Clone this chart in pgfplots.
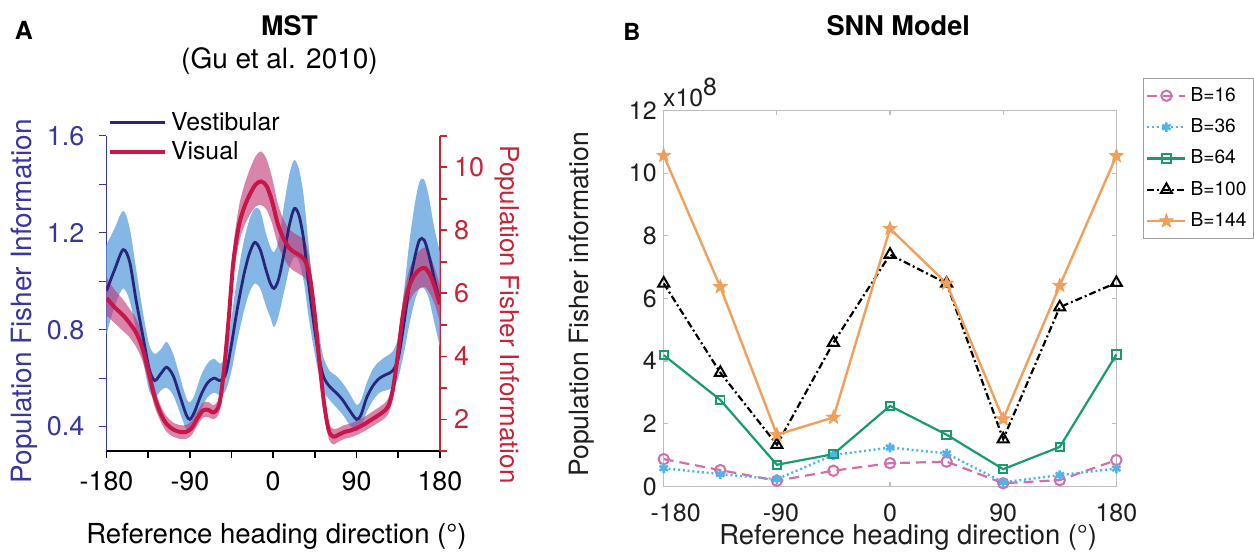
\documentclass[border=0pt]{standalone}
\usepackage{fontspec}
\setmainfont{TeX Gyre Heros}
\usepackage{pgfplots}
\pgfplotsset{compat=1.18}
\usepackage{pgfplotstable}
\usepgfplotslibrary{fillbetween}

\definecolor{vestline}{RGB}{40,38,120}
\definecolor{vestband}{RGB}{110,170,225}
\definecolor{visline}{RGB}{200,22,72}
\definecolor{visband}{RGB}{190,50,115}
\definecolor{leftax}{RGB}{55,55,160}
\definecolor{rightax}{RGB}{200,35,55}
\definecolor{cBa}{RGB}{210,110,170}
\definecolor{cBb}{RGB}{80,180,235}
\definecolor{cBc}{RGB}{25,155,110}
\definecolor{cBe}{RGB}{240,160,90}
\definecolor{frame}{RGB}{190,190,190}
\definecolor{txt}{RGB}{30,30,30}

% filled five-pointed star marker
\pgfdeclareplotmark{pentastar}{%
  \pgfpathmoveto{\pgfpointpolar{90}{\pgfplotmarksize}}%
  \pgfpathlineto{\pgfpointpolar{126}{0.42\pgfplotmarksize}}%
  \pgfpathlineto{\pgfpointpolar{162}{\pgfplotmarksize}}%
  \pgfpathlineto{\pgfpointpolar{198}{0.42\pgfplotmarksize}}%
  \pgfpathlineto{\pgfpointpolar{234}{\pgfplotmarksize}}%
  \pgfpathlineto{\pgfpointpolar{270}{0.42\pgfplotmarksize}}%
  \pgfpathlineto{\pgfpointpolar{306}{\pgfplotmarksize}}%
  \pgfpathlineto{\pgfpointpolar{342}{0.42\pgfplotmarksize}}%
  \pgfpathlineto{\pgfpointpolar{18}{\pgfplotmarksize}}%
  \pgfpathlineto{\pgfpointpolar{54}{0.42\pgfplotmarksize}}%
  \pgfpathclose\pgfusepathqfillstroke}

% MST population Fisher information, vestibular condition (mean and band)
\pgfplotstableread{
x m lo hi
-180 0.96 0.78 1.15
-171 1.05 0.90 1.22
-162 1.13 0.97 1.29
-155 1.08 0.92 1.22
-148 0.92 0.80 1.05
-141 0.78 0.68 0.88
-134 0.64 0.55 0.74
-128 0.59 0.52 0.70
-121 0.62 0.55 0.72
-115 0.645 0.56 0.75
-108 0.61 0.53 0.70
-101 0.53 0.46 0.61
-94 0.45 0.39 0.52
-90 0.43 0.38 0.50
-85 0.46 0.41 0.53
-78 0.53 0.47 0.61
-71 0.58 0.52 0.66
-64 0.60 0.54 0.68
-57 0.59 0.53 0.66
-51 0.62 0.55 0.70
-45 0.74 0.63 0.85
-39 0.88 0.75 1.01
-32 1.02 0.87 1.16
-26 1.11 0.95 1.25
-20 1.16 0.99 1.30
-14 1.13 0.97 1.29
-8 1.05 0.90 1.20
-3 0.99 0.85 1.14
1 0.97 0.81 1.12
6 1.01 0.86 1.17
12 1.12 0.96 1.32
18 1.24 1.06 1.45
23 1.30 1.10 1.50
28 1.27 1.08 1.46
33 1.17 1.00 1.35
38 1.00 0.86 1.16
43 0.85 0.74 0.97
48 0.72 0.64 0.82
54 0.61 0.55 0.69
61 0.565 0.51 0.63
68 0.54 0.48 0.61
75 0.51 0.45 0.58
82 0.47 0.41 0.54
90 0.43 0.38 0.49
95 0.45 0.40 0.51
101 0.52 0.46 0.58
108 0.57 0.51 0.64
115 0.60 0.54 0.67
122 0.615 0.55 0.69
129 0.63 0.56 0.71
135 0.68 0.60 0.77
141 0.82 0.70 0.95
147 0.98 0.82 1.16
153 1.10 0.92 1.32
158 1.17 0.97 1.41
163 1.17 0.97 1.42
168 1.11 0.93 1.35
174 1.01 0.83 1.22
180 0.92 0.73 1.12
}\vestibular

% MST population Fisher information, visual condition (mean and band)
\pgfplotstableread{
x m lo hi
-180 5.85 5.30 6.50
-171 5.55 5.05 6.10
-162 5.30 4.80 5.80
-155 5.05 4.60 5.50
-148 4.75 4.30 5.20
-141 4.25 3.85 4.65
-134 3.45 3.10 3.80
-128 2.70 2.40 3.00
-121 2.15 1.90 2.40
-115 1.85 1.60 2.10
-108 1.68 1.45 1.90
-101 1.60 1.38 1.82
-94 1.60 1.38 1.82
-88 1.72 1.50 1.95
-82 2.02 1.80 2.25
-76 2.28 2.05 2.52
-70 2.30 2.07 2.55
-64 2.22 2.00 2.45
-58 2.50 2.25 2.75
-53 3.60 3.30 3.90
-48 5.20 4.80 5.60
-43 7.00 6.50 7.50
-37 8.15 7.60 8.75
-31 8.75 8.15 9.45
-25 9.15 8.50 9.95
-19 9.45 8.75 10.35
-13 9.55 8.80 10.50
-7 9.40 8.65 10.25
-1 8.90 8.20 9.65
5 8.20 7.55 8.85
11 7.75 7.15 8.35
17 7.45 6.85 8.05
23 7.30 6.70 7.90
29 7.20 6.60 7.80
35 7.00 6.45 7.60
40 6.45 5.95 6.95
45 5.30 4.90 5.70
50 3.80 3.50 4.10
55 2.50 2.25 2.75
60 1.65 1.40 1.90
65 1.45 1.20 1.70
70 1.50 1.28 1.72
77 1.60 1.38 1.82
84 1.65 1.43 1.87
90 1.72 1.50 1.95
97 1.82 1.60 2.05
104 1.95 1.72 2.18
111 2.08 1.85 2.32
118 2.22 1.98 2.46
124 2.40 2.15 2.65
129 2.90 2.60 3.20
134 3.90 3.55 4.25
140 5.30 4.85 5.75
146 6.15 5.65 6.65
152 6.55 6.00 7.10
158 6.75 6.15 7.35
164 6.80 6.20 7.45
170 6.55 5.95 7.15
175 6.15 5.60 6.75
180 5.65 5.10 6.25
}\visual

\newcommand{\fs}[1]{\fontsize{#1}{#1}\selectfont}

\begin{document}
\begin{tikzpicture}
\begin{scope}[x=0.5pt,y=-0.5pt]
\useasboundingbox (0,0) rectangle (1254,550);
\end{scope}

%% ---------------- Panel A: MST ----------------
\begin{axis}[
  at={(53.35pt,-225.85pt)}, anchor=south west,
  scale only axis, width=167pt, height=157.85pt,
  xmin=-180, xmax=180, ymin=0.3, ymax=1.6,
  axis x line*=bottom, axis y line*=left,
  xtick={-180,-90,0,90,180}, minor xtick={-135,-45,45,135},
  ytick={0.4,0.8,1.2,1.6}, minor ytick={0.6,1.0,1.4},
  tick align=outside, major tick length=3.6pt, minor tick length=3.6pt,
  x axis line style={black, line width=1pt},
  y axis line style={leftax, line width=0.6pt},
  xtick style={black, line width=0.8pt},
  ytick style={leftax, line width=0.6pt},
  /pgf/number format/assume math mode=true,
  xticklabel style={font=\fs{13.4}, text=black, yshift=-3pt},
  yticklabel style={font=\fs{13.5}, text=leftax, xshift=-4pt,
    /pgf/number format/fixed, /pgf/number format/precision=1,
    /pgf/number format/fixed zerofill},
  legend style={at={(0.004,1.089)}, anchor=north west, draw=none, fill=none,
    font=\fs{12.4}, row sep=0pt, inner sep=0pt},
  legend cell align=left,
  legend image code/.code={\draw[#1] (0pt,0pt) -- (27.5pt,0pt);},
]
\addplot[name path=vu, draw=none, smooth, tension=0.5, forget plot] table[x=x,y=hi]{\vestibular};
\addplot[name path=vl, draw=none, smooth, tension=0.5, forget plot] table[x=x,y=lo]{\vestibular};
\addplot[fill=vestband, fill opacity=0.85, draw=none, forget plot] fill between[of=vu and vl];
\addplot[vestline, line width=1.4pt, smooth, tension=0.5, forget plot] table[x=x,y=m]{\vestibular};
\addlegendimage{vestline, line width=1.4pt}
\addlegendentry{Vestibular}
\addlegendimage{visline, line width=2pt}
\addlegendentry{Visual}
\end{axis}

\begin{axis}[
  at={(53.35pt,-225.85pt)}, anchor=south west,
  scale only axis, width=167pt, height=157.85pt,
  xmin=-180, xmax=180, ymin=1, ymax=11,
  axis x line=none, axis y line*=right,
  ytick={2,4,6,8,10}, minor ytick={1,3,5,7,9,11},
  tick align=outside, major tick length=3.6pt, minor tick length=3.6pt,
  y axis line style={rightax, line width=0.8pt},
  ytick style={rightax, line width=0.8pt},
  /pgf/number format/assume math mode=true,
  yticklabel style={font=\fs{13.5}, text=rightax},
]
\addplot[name path=su, draw=none, smooth, tension=0.5] table[x=x,y=hi]{\visual};
\addplot[name path=sl, draw=none, smooth, tension=0.5] table[x=x,y=lo]{\visual};
\addplot[fill=visband, fill opacity=0.6, draw=none] fill between[of=su and sl];
\addplot[visline, line width=2pt, smooth, tension=0.5] table[x=x,y=m]{\visual};
\end{axis}

%% ---------------- Panel B: SNN model ----------------
\begin{axis}[
  at={(332.5pt,-243.65pt)}, anchor=south west,
  scale only axis, width=226.75pt, height=188.3pt,
  xmin=-180, xmax=180, ymin=0, ymax=12,
  xtick={-180,-90,0,90,180}, ytick={0,2,4,6,8,10,12},
  xticklabels={\hspace*{12pt}-180, \hspace*{4pt}-90, 0, 90, 180},
  tick align=inside, major tick length=2.2pt,
  axis line style={frame, line width=0.6pt},
  tick style={frame, line width=0.6pt},
  /pgf/number format/assume math mode=true,
  ticklabel style={font=\fs{12.5}, text=txt},
  xticklabel style={yshift=-5pt},
  clip=false,
  legend style={at={(1.0584,1.087)}, anchor=north west, draw=gray!75,
    line width=0.5pt, fill=white, font=\fs{9.6}, row sep=3.2pt,
    inner xsep=1.5pt, inner ysep=2.5pt},
  legend cell align=left,
  legend image code/.code={%
    \draw[#1] (0pt,0pt) -- (19pt,0pt);
    \draw[#1, only marks] plot coordinates {(9.5pt,0pt)};},
]
\addplot[cBa, line width=1.1pt, dash pattern=on 5pt off 3pt,
  mark=o, mark size=2.6pt, mark options={solid, line width=1pt}]
  coordinates {(-180,0.87) (-135,0.52) (-90,0.18) (-45,0.50) (0,0.74) (45,0.79) (90,0.10) (135,0.20) (180,0.84)};
\addlegendentry{B=16}
\addplot[cBb, line width=1.2pt, dash pattern=on 1pt off 1.4pt,
  mark=asterisk, mark size=2.4pt, mark options={solid, line width=1.3pt}]
  coordinates {(-180,0.58) (-135,0.39) (-90,0.23) (-45,1.00) (0,1.24) (45,1.05) (90,0.13) (135,0.36) (180,0.57)};
\addlegendentry{B=36}
\addplot[cBc, line width=1.1pt,
  mark=square, mark size=2.1pt, mark options={solid, line width=1pt}]
  coordinates {(-180,4.19) (-135,2.76) (-90,0.69) (-45,1.03) (0,2.57) (45,1.65) (90,0.55) (135,1.26) (180,4.21)};
\addlegendentry{B=64}
\addplot[black, line width=1.1pt, dash pattern=on 3.5pt off 1.5pt on 1pt off 1.5pt,
  mark=triangle, mark size=3.2pt, mark options={solid, line width=1pt}]
  coordinates {(-180,6.48) (-135,3.63) (-90,1.33) (-45,4.59) (0,7.40) (45,6.48) (90,1.51) (135,5.72) (180,6.50)};
\addlegendentry{B=100}
\addplot[cBe, line width=1.2pt,
  mark=pentastar, mark size=3.6pt, mark options={solid, fill=cBe, line width=0.4pt}]
  coordinates {(-180,10.56) (-135,6.37) (-90,1.65) (-45,2.20) (0,8.23) (45,6.48) (90,2.15) (135,6.41) (180,10.55)};
\addlegendentry{B=144}
\end{axis}

%% ---------------- titles and axis labels ----------------
\begin{scope}[x=0.5pt,y=-0.5pt]
\node[font=\bfseries\fs{12.5}] at (24,30) {A};
\node[font=\bfseries\fs{13.5}] at (290,26) {MST};
\node[font=\fs{14}] at (280,61) {(Gu et al. 2010)};
\node[font=\fs{14}, text=leftax, rotate=90] at (24,302) {Population Fisher Information};
\node[font=\fs{13}, text=rightax, rotate=-90] at (508,315) {Population Fisher Information};
\node[font=\fs{13.8}, anchor=base] at (277,545) {Reference heading direction (°)};
\node[font=\fs{12.4}, text=txt, anchor=base west, inner sep=0pt] at (664,107) {x10\raisebox{5.5pt}{8}};
\node[font=\bfseries\fs{11.8}] at (633,32) {B};
\node[font=\bfseries\fs{13.6}] at (900,26) {SNN Model};
\node[font=\fs{13.3}, text=txt, rotate=90] at (583,305) {Population Fisher information};
\node[font=\fs{13.7}, text=txt, anchor=base] at (910,546) {Reference heading direction (°)};
\end{scope}
\end{tikzpicture}
\end{document}
